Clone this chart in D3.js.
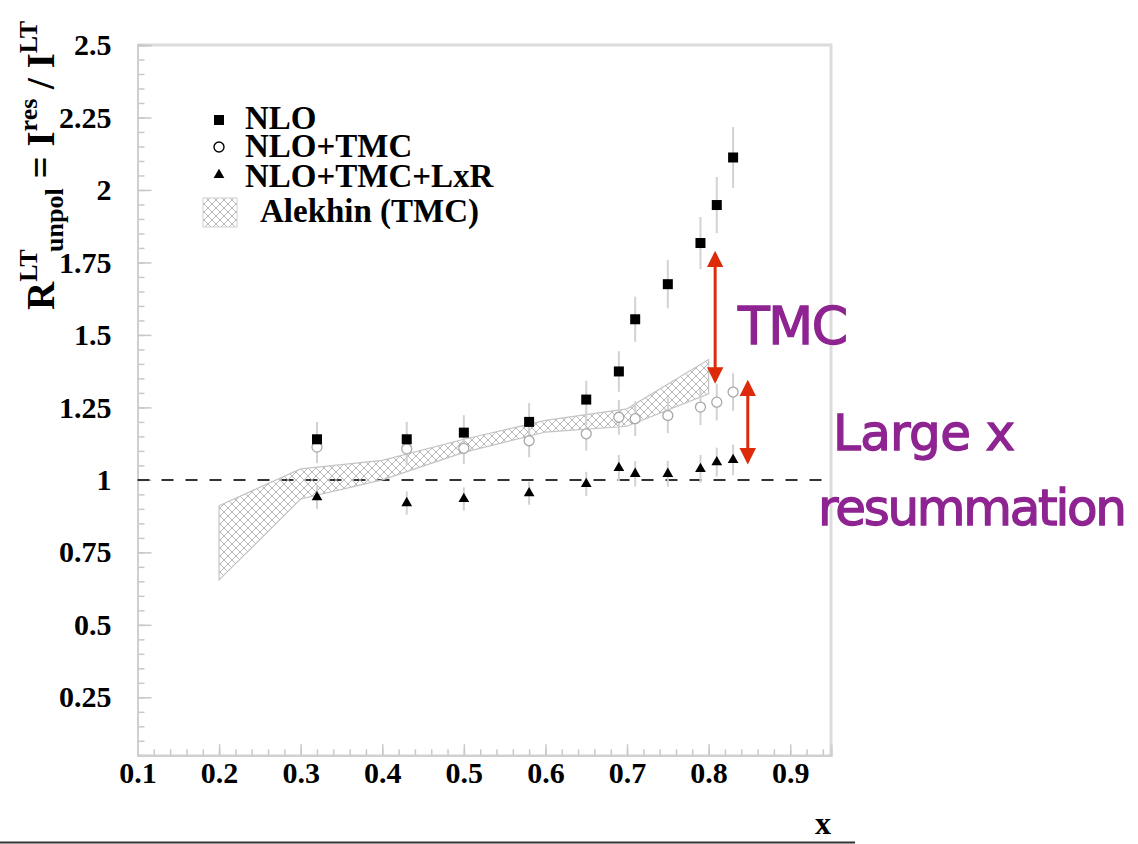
<!DOCTYPE html>
<html>
<head>
<meta charset="utf-8">
<script src="https://cdn.jsdelivr.net/npm/d3@7"></script>
<style>
  html, body { margin: 0; padding: 0; background: #fff; }
  svg { display: block; }
  .tick text { font-family: "Liberation Serif", "Times New Roman", serif; font-weight: bold; }
</style>
</head>
<body>
<svg id="chart" width="1138" height="844"></svg>
<script>
// Bjorken x of each computed point
const xValues = [0.32, 0.43, 0.50, 0.58, 0.65, 0.69, 0.71, 0.75, 0.79, 0.81, 0.83];
// NLO
const nloValues = [1.14, 1.14, 1.163, 1.20, 1.277, 1.374, 1.554, 1.675, 1.817, 1.948, 2.112];
const nloErrors = [0.06, 0.06, 0.06, 0.065, 0.065, 0.07, 0.078, 0.083, 0.09, 0.097, 0.105];
// NLO + target mass corrections
const tmcValues = [1.113, 1.107, 1.109, 1.135, 1.159, 1.216, 1.211, 1.222, 1.251, 1.268, 1.303];
const tmcErrors = [0.055, 0.055, 0.055, 0.057, 0.058, 0.06, 0.06, 0.061, 0.062, 0.063, 0.065];
// NLO + TMC + large-x resummation
const lxrValues = [0.94, 0.92, 0.934, 0.954, 0.986, 1.041, 1.021, 1.021, 1.038, 1.061, 1.069];
const lxrErrors = [0.04, 0.04, 0.04, 0.04, 0.042, 0.045, 0.044, 0.045, 0.048, 0.05, 0.053];
// Alekhin (TMC) band
const bandX = [0.2, 0.3, 0.4, 0.5, 0.6, 0.7, 0.8];
const bandHigh = [0.911, 1.038, 1.067, 1.14, 1.205, 1.245, 1.415];
const bandLow = [0.655, 0.934, 1.0, 1.095, 1.165, 1.185, 1.297];
// axis ticks
const xTicks = [0.1, 0.2, 0.3, 0.4, 0.5, 0.6, 0.7, 0.8, 0.9];
const yTicks = [0.25, 0.5, 0.75, 1, 1.25, 1.5, 1.75, 2, 2.25, 2.5];
const legendLabels = ["NLO", "NLO+TMC", "NLO+TMC+LxR", "Alekhin (TMC)"];
// annotation arrows: [x, low end, high end]
const arrowTMC = [0.808, 1.343, 1.779];
const arrowLxR = [0.848, 1.064, 1.334];

const svg = d3.select("#chart");
const x = d3.scaleLinear().domain([0.1, 0.95]).range([137.5, 831]);
const y = d3.scaleLinear().domain([0.05, 2.5]).range([755.3, 45]);

const defs = svg.append("defs");
const pat = defs.append("pattern")
  .attr("id", "hatch").attr("patternUnits", "userSpaceOnUse")
  .attr("width", 8).attr("height", 8);
pat.append("path").attr("d", "M0,0L8,8M8,0L0,8M-1,7L1,9M7,-1L9,1M-1,1L1,-1M7,9L9,7")
  .attr("stroke", "#ababab").attr("stroke-width", 0.85).attr("fill", "none");

const marker = defs.append("marker").attr("id", "head")
  .attr("viewBox", "0 0 10 10").attr("refX", 8).attr("refY", 5)
  .attr("markerWidth", 5.5).attr("markerHeight", 6).attr("orient", "auto-start-reverse")
  .attr("markerUnits", "strokeWidth");
marker.append("path").attr("d", "M0,0L10,5L0,10Z").attr("fill", "#dd2a0a");

// frame
svg.append("path")
  .attr("d", `M${x(0.1)},${y(2.5)}H${x(0.95)}V${y(0.05)}`)
  .attr("fill", "none").attr("stroke", "#dcdcdc").attr("stroke-width", 3);

// axes: major and minor ticks pointing inward
const minorX = d3.range(0.1, 0.951, 0.02);
const minorY = d3.range(0.05, 2.501, 0.05);

const gx = svg.append("g").attr("transform", `translate(0,${y(0.05)})`);
gx.call(d3.axisBottom(x).tickValues(minorX).tickSize(-6).tickFormat(""));
gx.selectAll(".tick line").attr("stroke", "#c8c8c8").attr("stroke-width", 1.5);
const gx2 = svg.append("g").attr("transform", `translate(0,${y(0.05)})`);
gx2.call(d3.axisBottom(x).tickValues(xTicks).tickSize(-11).tickPadding(6).tickFormat(d3.format("")));
gx2.selectAll(".tick line").attr("stroke", "#c8c8c8").attr("stroke-width", 1.5);
gx2.selectAll(".tick text").attr("font-size", 30).attr("fill", "#000");
[gx, gx2].forEach(g => g.select(".domain").attr("stroke", "#cfcfcf").attr("stroke-width", 2));

const gy = svg.append("g").attr("transform", `translate(${x(0.1)},0)`);
gy.call(d3.axisLeft(y).tickValues(minorY).tickSize(-7).tickFormat(""));
gy.selectAll(".tick line").attr("stroke", "#c8c8c8").attr("stroke-width", 1.5);
const gy2 = svg.append("g").attr("transform", `translate(${x(0.1)},0)`);
gy2.call(d3.axisLeft(y).tickValues(yTicks).tickSize(-14).tickPadding(26).tickFormat(d3.format("")));
gy2.selectAll(".tick line").attr("stroke", "#c8c8c8").attr("stroke-width", 1.5);
gy2.selectAll(".tick text").attr("font-size", 30).attr("fill", "#000");
[gy, gy2].forEach(g => g.select(".domain").attr("stroke", "#cfcfcf").attr("stroke-width", 2));

// reference line at 1
svg.append("line")
  .attr("x1", x(0.1)).attr("x2", x(0.95)).attr("y1", y(1)).attr("y2", y(1))
  .attr("stroke", "#333").attr("stroke-width", 2).attr("stroke-dasharray", "12,12");

// Alekhin band
const bandPts = bandX.map((v, i) => [x(v), y(bandHigh[i])])
  .concat(bandX.map((v, i) => [x(v), y(bandLow[i])]).reverse());
svg.append("path")
  .attr("d", d3.line()(bandPts) + "Z")
  .attr("fill", "url(#hatch)").attr("stroke", "#c4c4c4").attr("stroke-width", 1.2);

// error bars
function errorBars(vals, errs) {
  svg.append("g").selectAll("line").data(xValues).join("line")
    .attr("x1", d => x(d)).attr("x2", d => x(d))
    .attr("y1", (d, i) => y(vals[i] - errs[i])).attr("y2", (d, i) => y(vals[i] + errs[i]))
    .attr("stroke", "#d2d2d2").attr("stroke-width", 2);
}
errorBars(nloValues, nloErrors);
errorBars(tmcValues, tmcErrors);
errorBars(lxrValues, lxrErrors);

// markers
svg.append("g").selectAll("circle").data(xValues).join("circle")
  .attr("cx", d => x(d)).attr("cy", (d, i) => y(tmcValues[i])).attr("r", 5)
  .attr("fill", "#fff").attr("stroke", "#a8a8a8").attr("stroke-width", 1.3);
svg.append("g").selectAll("rect").data(xValues).join("rect")
  .attr("x", d => x(d) - 5).attr("y", (d, i) => y(nloValues[i]) - 5)
  .attr("width", 10).attr("height", 10).attr("fill", "#000");
const tri = d3.symbol().type(d3.symbolTriangle).size(50);
svg.append("g").selectAll("path").data(xValues).join("path")
  .attr("transform", (d, i) => `translate(${x(d)},${y(lxrValues[i])})`)
  .attr("d", tri).attr("fill", "#000");

// legend
const leg = svg.append("g").attr("font-family", "Liberation Serif, Times New Roman, serif")
  .attr("font-weight", "bold").attr("font-size", 33).attr("fill", "#000");
leg.append("rect").attr("x", 214).attr("y", 115).attr("width", 10).attr("height", 10).attr("fill", "#000");
leg.append("circle").attr("cx", 219).attr("cy", 147).attr("r", 5).attr("fill", "#fff").attr("stroke", "#000").attr("stroke-width", 1.4);
leg.append("path").attr("transform", "translate(219,175)").attr("d", tri).attr("fill", "#000");
leg.append("rect").attr("x", 203).attr("y", 198).attr("width", 34).attr("height", 29)
  .attr("fill", "url(#hatch)").attr("stroke", "#d0d0d0").attr("stroke-width", 1);
const legPos = [[245, 129], [245, 157], [245, 187], [260, 222]];
leg.selectAll("text").data(legendLabels).join("text")
  .attr("x", (d, i) => legPos[i][0]).attr("y", (d, i) => legPos[i][1])
  .text(d => d);

// axis titles
svg.append("text").attr("x", 831).attr("y", 834).attr("text-anchor", "end")
  .attr("font-family", "Liberation Serif, serif").attr("font-weight", "bold").attr("font-size", 32)
  .text("x");
svg.append("line").attr("x1", 0).attr("x2", 855).attr("y1", 842.5).attr("y2", 842.5)
  .attr("stroke", "#333").attr("stroke-width", 2);

const yt = svg.append("text")
  .attr("transform", "translate(54,310) rotate(-90)")
  .attr("font-family", "Liberation Serif, serif").attr("font-weight", "bold").attr("font-size", 39);
yt.append("tspan").text("R");
yt.append("tspan").attr("font-size", 26).attr("dy", -17).text("LT");
yt.append("tspan").attr("font-size", 26).attr("dy", 26).text("unpol");
yt.append("tspan").attr("dy", -9).text(" = I");
yt.append("tspan").attr("font-size", 26).attr("dy", -17).text("res");
yt.append("tspan").attr("dy", 17).text(" / I");
yt.append("tspan").attr("font-size", 26).attr("dy", -17).text("LT");

// annotations
const arrows = [arrowTMC, arrowLxR];
svg.append("g").selectAll("line").data(arrows).join("line")
  .attr("x1", d => x(d[0])).attr("x2", d => x(d[0]))
  .attr("y1", d => y(d[1])).attr("y2", d => y(d[2]))
  .attr("stroke", "#dd2a0a").attr("stroke-width", 3)
  .attr("marker-start", "url(#head)").attr("marker-end", "url(#head)");

const ann = svg.append("g").attr("font-family", "DejaVu Sans, sans-serif").attr("fill", "#8e2491")
  .attr("stroke", "#8e2491").attr("stroke-width", 1.3);
ann.append("text").attr("x", 738).attr("y", 344).attr("font-size", 52).attr("textLength", 110).text("TMC");
ann.append("text").attr("x", 833).attr("y", 450).attr("font-size", 50).attr("textLength", 182).text("Large x");
ann.append("text").attr("x", 818).attr("y", 525).attr("font-size", 50).attr("textLength", 309).text("resummation");
</script>
</body>
</html>
